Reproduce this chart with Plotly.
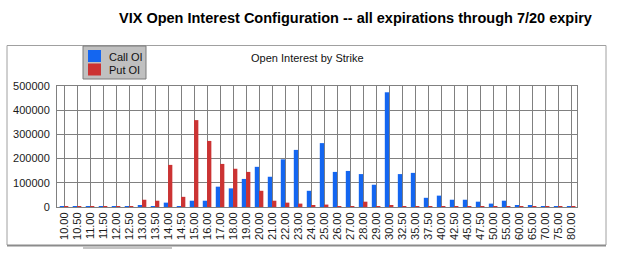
import plotly.graph_objects as go

strikes = ["10.00", "10.50", "11.00", "11.50", "12.00", "12.50", "13.00", "13.50", "14.00", "14.50",
           "15.00", "16.00", "17.00", "18.00", "19.00", "20.00", "21.00", "22.00", "23.00", "24.00",
           "25.00", "26.00", "27.00", "28.00", "29.00", "30.00", "32.50", "35.00", "37.50", "40.00",
           "42.50", "45.00", "47.50", "50.00", "55.00", "60.00", "65.00", "70.00", "75.00", "80.00"]

call_oi = [200, 200, 200, 200, 200, 300, 5000, 1000, 18000, 2000,
           26000, 26000, 84000, 77000, 116000, 166000, 125000, 197000, 236000, 67000,
           264000, 145000, 149000, 136000, 92000, 474000, 136000, 141000, 38000, 47000,
           30000, 30000, 22000, 14000, 26000, 5000, 5000, 1000, 500, 500]

put_oi = [500, 500, 500, 500, 600, 1000, 30000, 26000, 174000, 42000,
          359000, 273000, 178000, 158000, 145000, 67000, 26000, 18000, 14000, 5000,
          10000, 2000, 1000, 22000, 1000, 5000, 1000, 1000, 1000, 1000,
          500, 500, 500, 500, 500, 500, 500, 500, 500, 500]

y_ticks = [0, 100000, 200000, 300000, 400000, 500000]

W, H = 619, 257
ML, MR, MT, MB = 57, 42, 86, 50
PW, PH = W - ML - MR, H - MT - MB


def px(x):
    return (x - ML) / PW


def py(y):
    return (H - MB - y) / PH


BLUE = "#1466f0"
RED = "#cc3333"
FONT = "Arial, Liberation Sans, sans-serif"

fig = go.Figure()
fig.add_trace(go.Bar(x=strikes, y=call_oi, name="Call OI", marker=dict(color=BLUE, line=dict(width=0))))
fig.add_trace(go.Bar(x=strikes, y=put_oi, name="Put OI", marker=dict(color=RED, line=dict(width=0))))

shapes = []
# outer frame
shapes.append(dict(type="line", xref="paper", yref="paper", x0=px(7), x1=px(606), y0=py(45.5), y1=py(45.5),
                   line=dict(color="#a0a0a0", width=1)))
shapes.append(dict(type="line", xref="paper", yref="paper", x0=px(7), x1=px(7), y0=py(45.5), y1=py(245),
                   line=dict(color="#a0a0a0", width=1)))
shapes.append(dict(type="line", xref="paper", yref="paper", x0=px(606), x1=px(606), y0=py(45.5), y1=py(245),
                   line=dict(color="#a0a0a0", width=1)))
shapes.append(dict(type="line", xref="paper", yref="paper", x0=px(7), x1=px(606), y0=py(245.5), y1=py(245.5),
                   line=dict(color="#8c8c8c", width=2)))
# scrollbar thumb
shapes.append(dict(type="rect", xref="paper", yref="paper", x0=px(83), x1=px(172), y0=py(246.5), y1=py(249),
                   line=dict(width=0), fillcolor="#c4c4c4"))
# legend box
shapes.append(dict(type="rect", xref="paper", yref="paper", x0=px(83), x1=px(146), y0=py(46), y1=py(79),
                   line=dict(color="#7a7a7a", width=1), fillcolor="#c0c0c0"))
shapes.append(dict(type="rect", xref="paper", yref="paper", x0=px(88), x1=px(101), y0=py(50), y1=py(62),
                   line=dict(width=0), fillcolor=BLUE))
shapes.append(dict(type="rect", xref="paper", yref="paper", x0=px(88), x1=px(101), y0=py(63.5), y1=py(75.5),
                   line=dict(width=0), fillcolor=RED))

annotations = [
    dict(text="<b>VIX Open Interest Configuration -- all expirations through 7/20 expiry</b>",
         xref="paper", yref="paper", x=px(355), y=py(18), xanchor="center", yanchor="middle",
         showarrow=False, font=dict(family=FONT, size=14.5, color="#000000")),
    dict(text="Open Interest by Strike", xref="paper", yref="paper", x=px(307), y=py(58),
         xanchor="center", yanchor="middle", showarrow=False, font=dict(family=FONT, size=11, color="#111111")),
    dict(text="Call OI", xref="paper", yref="paper", x=px(107), y=py(56.5), xanchor="left", yanchor="middle",
         showarrow=False, font=dict(family=FONT, size=11, color="#111111")),
    dict(text="Put OI", xref="paper", yref="paper", x=px(107), y=py(70), xanchor="left", yanchor="middle",
         showarrow=False, font=dict(family=FONT, size=11, color="#111111")),
]

fig.update_layout(
    width=W, height=H,
    margin=dict(l=ML, r=MR, t=MT, b=MB, pad=0),
    paper_bgcolor="white", plot_bgcolor="white",
    barmode="group", bargap=0.34, bargroupgap=0,
    showlegend=False,
    shapes=shapes, annotations=annotations,
    font=dict(family=FONT, size=11, color="#1a1a1a"),
)
fig.update_xaxes(
    type="category", range=[-0.54, 39.45], tickangle=-90,
    showgrid=True, gridcolor="#808080", gridwidth=1,
    showline=True, linecolor="#808080", linewidth=1, mirror=True,
    ticks="", tickfont=dict(family=FONT, size=11, color="#1a1a1a"),
)
fig.update_yaxes(
    range=[0, 500000], tickvals=y_ticks, ticktext=[str(v) for v in y_ticks],
    showgrid=True, gridcolor="#808080", gridwidth=1,
    showline=True, linecolor="#808080", linewidth=1, mirror=True, zeroline=False,
    ticks="", ticklabelstandoff=4, tickfont=dict(family=FONT, size=11, color="#1a1a1a"),
)

fig.write_html("out.html")
